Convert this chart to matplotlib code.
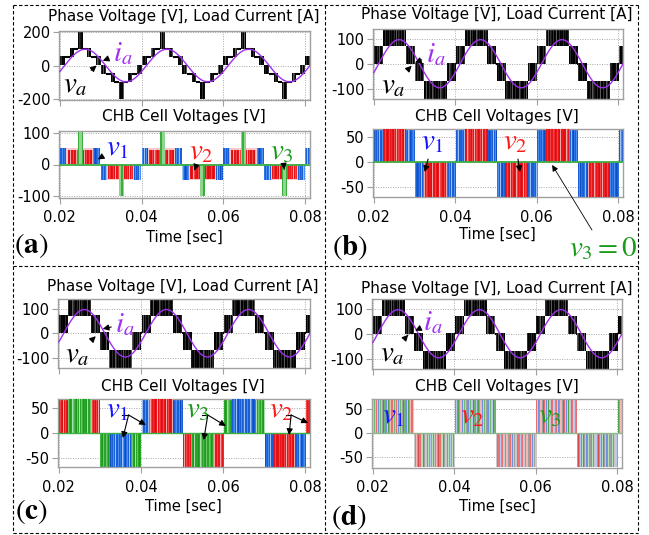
import numpy as np
import matplotlib
matplotlib.use('Agg')
import matplotlib.pyplot as plt
from matplotlib.colors import ListedColormap
from matplotlib.lines import Line2D

plt.rcParams['font.family'] = ['DejaVu Sans']
plt.rcParams['mathtext.fontset'] = 'stix'
plt.rcParams['axes.unicode_minus'] = False

# ------------------------------------------------------------------ data
time_ticks = [0.02, 0.04, 0.06, 0.08]
time_tick_labels = ['0.02', '0.04', '0.06', '0.08']
period_starts_ms = [20.0, 40.0, 60.0, 80.0]
sample_step_ms = 0.5

# load current i_a over one fundamental period (sampled every 0.5 ms from period start)
current_period = [-35.7, -21.2, -6.1, 9.1, 24.1, 38.5, 52.0, 64.1, 74.7, 83.5,
                  90.2, 94.7, 96.8, 96.6, 94.0, 89.0, 81.9, 72.8, 61.8, 49.4,
                  35.7, 21.2, 6.1, -9.1, -24.1, -38.5, -52.0, -64.1, -74.7, -83.5,
                  -90.2, -94.7, -96.8, -96.6, -94.0, -89.0, -81.9, -72.8, -61.8, -49.4]

# (a) phase voltage, positive half cycle (ms from period start); negative half is mirrored
a_seg_start = [0.0, 1.2, 2.4, 3.3, 4.4, 5.6, 6.7, 7.6, 8.8]
a_seg_end = [1.2, 2.4, 3.3, 4.4, 5.6, 6.7, 7.6, 8.8, 10.0]
a_seg_low = [0, 50, 50, 100, 100, 100, 50, 50, 0]
a_seg_high = [50, 50, 100, 100, 200, 100, 100, 50, 50]
# (a) cell voltages, positive half cycle
a_v1_span = (0.0, 9.75)
a_v1_edge = 1.6
a_v1_level = 50
a_v2_span = (1.6, 8.15)
a_v2_level = 46
a_v3_span = (4.4, 5.6)
a_v3_level = 100

# (b)-(d) phase voltage, positive half cycle
m_seg_start = [0.0, 0.15, 2.3, 7.9]
m_seg_end = [0.15, 2.3, 7.9, 10.0]
m_seg_low = [0, 0, 70, 0]
m_seg_high = [0, 70, 140, 70]
m_outer_span = (0.15, 10.0)
m_inner_span = (2.3, 7.9)
m_cell_level = 70

# (b): fixed roles ; (c): rotating roles, per half cycle starting at 0.02 s
b_outer = ['v1'] * 7
b_inner = ['v2'] * 7
c_outer = ['v2', 'v3', 'v1', 'v2', 'v3', 'v1', 'v2']
c_inner = ['v3', 'v1', 'v2', 'v3', 'v1', 'v2', 'v3']

# ------------------------------------------------------------------ styles
PAL = {
    'v1': ['#1a5fd6', '#4a8ef0', '#2f74e6', '#9cc2f5', '#0f4cc0'],
    'v2': ['#e8161b', '#f04848', '#d81010', '#f7a8a8', '#ee2a2a'],
    'v3': ['#2aa52a', '#6cc86c', '#1f961f', '#aadeaa', '#43b543'],
    'k': ['#000000', '#2e2e2e', '#0a0a0a', '#5a5a5a', '#1a1a1a'],
    'mix': ['#e87070', '#70b870', '#7090e0', '#a0a0a0', '#f4b8b8',
            '#b8e0b8', '#b8c8f0', '#c8c8c8', '#d05050', '#50a050'],
}
PATTERN = [0, 1, 0, 2, 0, 3, 1, 0, 4, 0, 2, 1, 0, 3, 0, 1, 4, 2, 0, 1, 0, 2, 3, 0]
MIX_PATTERN = [0, 5, 2, 7, 1, 4, 6, 3, 8, 1, 0, 6, 2, 5, 9, 3, 4, 7, 2, 0, 5, 1, 6, 3]
TXT = {'v1': '#1515ff', 'v2': '#ff1a1a', 'v3': '#1a9a1a'}
GREEN = '#3cb043'
PURPLE = '#a030f0'

W, H = 649, 535
fig = plt.figure(figsize=(W / 100, H / 100), dpi=100)


def fx(x):
    return x / W


def fy(y):
    return 1 - y / H


def add_ax(l, r, t, b):
    return fig.add_axes([fx(l), fy(b), (r - l) / W, (b - t) / H])


_cnt = [0]


def striped(ax, t0, t1, y0, y1, palette, z=2, pattern=PATTERN, stripe_ms=0.22):
    n = max(2, int(round((t1 - t0) / stripe_ms)))
    off = _cnt[0] * 7
    _cnt[0] += 1
    idx = np.array([pattern[(k + off) % len(pattern)] % len(palette) for k in range(n)])
    ax.imshow(idx[None, :], cmap=ListedColormap(palette), vmin=-0.5, vmax=len(palette) - 0.5,
              extent=(t0 / 1000, t1 / 1000, min(y0, y1), max(y0, y1)),
              aspect='auto', interpolation='nearest', zorder=z)


def style_axes(ax, ylim, yticks, xlabels):
    ax.set_xlim(0.0198, 0.0812)
    ax.set_ylim(*ylim)
    ax.set_xticks(time_ticks)
    ax.set_xticklabels(time_tick_labels if xlabels else [])
    ax.set_yticks(yticks)
    ax.set_yticklabels([str(v) for v in yticks])
    ax.grid(True, ls=(0, (1, 1.5)), color='#a8a8a8', lw=0.7)
    ax.set_axisbelow(True)
    for sp in ax.spines.values():
        sp.set_color('#a0a0a0')
        sp.set_linewidth(1.0)
    ax.tick_params(colors='#a0a0a0', labelcolor='black', labelsize=10.5, length=4, width=0.8)
    ax.tick_params(axis='y', pad=2)
    ax.tick_params(axis='x', pad=5)


def draw_phase(ax, s0, s1, lo, hi):
    for p in period_starts_ms:
        for sign, off in [(1, 0.0), (-1, 10.0)]:
            for a, b, l, h in zip(s0, s1, lo, hi):
                t0, t1 = p + off + a, p + off + b
                if l == h:
                    ax.hlines(sign * l, t0 / 1000, t1 / 1000, color='black', lw=1.5, zorder=3)
                else:
                    striped(ax, t0, t1, sign * l, sign * h, PAL['k'])
    tt = [(period_starts_ms[0] + k * sample_step_ms) / 1000
          for k in range(len(current_period) * 3 + 4)]
    ii = [current_period[k % len(current_period)] for k in range(len(tt))]
    ax.plot(tt, ii, color=PURPLE, lw=1.0, zorder=5)


ARROW = dict(arrowstyle='-|>', color='black', lw=0.8, mutation_scale=9, shrinkA=1, shrinkB=0)


def va_ia(ax, ia_txt, ia_head, va_txt, va_head):
    ax.annotate(r'$i_a$', xy=ia_head, xytext=ia_txt, color=PURPLE, fontsize=21,
                ha='center', va='center', arrowprops=ARROW, zorder=10)
    ax.annotate(r'$v_a$', xy=va_head, xytext=va_txt, color='black', fontsize=21,
                ha='center', va='center', arrowprops=ARROW, zorder=10)


def texts(cx, y_title, y_cell, y_time, lab, lab_xy):
    fig.text(fx(cx), fy(y_title), 'Phase Voltage [V], Load Current [A]', ha='center', va='center', fontsize=11)
    fig.text(fx(cx), fy(y_cell), 'CHB Cell Voltages [V]', ha='center', va='center', fontsize=11)
    fig.text(fx(cx), fy(y_time), 'Time [sec]', ha='center', va='center', fontsize=10.5)
    fig.text(fx(lab_xy[0]), fy(lab_xy[1]), r'$(\mathbf{%s})$' % lab, ha='center', va='center', fontsize=21)


# ------------------------------------------------------------------ (a)
axA1 = add_ax(59, 310, 31, 100)
draw_phase(axA1, a_seg_start, a_seg_end, a_seg_low, a_seg_high)
style_axes(axA1, (-205, 205), [-200, 0, 200], False)
va_ia(axA1, (0.0354, 75), (0.0305, 28), (0.0237, -112), (0.0290, 0))

axA2 = add_ax(59, 310, 131, 198)
for p in period_starts_ms:
    for sign, off in [(1, 0.0), (-1, 10.0)]:
        b = p + off
        striped(axA2, b + a_v1_span[0], b + a_v1_span[1], 0, sign * a_v1_level, ['#a8c8f0'], z=2)
        striped(axA2, b + a_v1_span[0], b + a_v1_span[0] + a_v1_edge, 0, sign * a_v1_level, PAL['v1'], z=3)
        striped(axA2, b + a_v1_span[1] - a_v1_edge, b + a_v1_span[1], 0, sign * a_v1_level, PAL['v1'], z=3)
        striped(axA2, b + a_v2_span[0], b + a_v2_span[1], 0, sign * (a_v2_level + 2), ['#f6c8c8'], z=4)
        striped(axA2, b + a_v2_span[0] + 0.3, b + a_v2_span[1] - 0.3, sign * 3, sign * a_v2_level,
                PAL['v2'], z=5)
        striped(axA2, b + a_v3_span[0], b + a_v3_span[1], 0, sign * a_v3_level,
                ['#3aae3a', '#90d490', '#90d490', '#90d490', '#3aae3a'], z=6,
                pattern=[0, 1, 2, 3, 4], stripe_ms=(a_v3_span[1] - a_v3_span[0]) / 5)
axA2.axhline(0, color=GREEN, lw=1.3, zorder=7)
style_axes(axA2, (-106, 106), [-100, 0, 100], True)
axA2.annotate(r'$v_1$', xy=(0.0293, 16), xytext=(0.0342, 56), color=TXT['v1'], fontsize=21,
              ha='center', va='center', arrowprops=ARROW, zorder=10)
axA2.annotate(r'$v_2$', xy=(0.0529, -19), xytext=(0.0546, 42), color=TXT['v2'], fontsize=21,
              ha='center', va='center', arrowprops=ARROW, zorder=10)
axA2.annotate(r'$v_3$', xy=(0.0749, -16), xytext=(0.0744, 42), color=TXT['v3'], fontsize=21,
              ha='center', va='center', arrowprops=ARROW, zorder=10)
texts(184, 17, 117, 237, 'a', (31, 246))


# ------------------------------------------------------------------ (b)-(d) helpers
def draw_cells(ax, outer, inner, mixed=False):
    for k, (o, i) in enumerate(zip(outer, inner)):
        b = period_starts_ms[0] + 10.0 * k
        sign = 1 if k % 2 == 0 else -1
        if mixed:
            striped(ax, b + m_outer_span[0], b + m_outer_span[1], 0, sign * m_cell_level,
                    PAL['mix'], z=2, pattern=MIX_PATTERN, stripe_ms=0.2)
        else:
            striped(ax, b + m_outer_span[0], b + m_outer_span[1], 0, sign * m_cell_level, PAL[o], z=2)
            striped(ax, b + m_inner_span[0], b + m_inner_span[1], 0, sign * m_cell_level, PAL[i], z=3)


# ------------------------------------------------------------------ (b)
axB1 = add_ax(373, 623, 29, 99)
draw_phase(axB1, m_seg_start, m_seg_end, m_seg_low, m_seg_high)
style_axes(axB1, (-142, 140), [-100, 0, 100], False)
va_ia(axB1, (0.0352, 40), (0.0301, 4), (0.0247, -85), (0.0293, -8))

axB2 = add_ax(373, 623, 129, 197)
draw_cells(axB2, b_outer, b_inner)
axB2.axhline(0, color=GREEN, lw=1.3, zorder=7)
style_axes(axB2, (-70, 66), [-50, 0, 50], True)
axB2.annotate(r'$v_1$', xy=(0.0325, -20), xytext=(0.0345, 42), color=TXT['v1'], fontsize=21,
              ha='center', va='center', arrowprops=ARROW, zorder=10)
axB2.annotate(r'$v_2$', xy=(0.0559, -20), xytext=(0.0547, 42), color=TXT['v2'], fontsize=21,
              ha='center', va='center', arrowprops=ARROW, zorder=10)
axB2.annotate(r'$v_3 = 0$', xy=(0.0638, -6), xytext=(fx(603), fy(248)), textcoords='figure fraction',
              color=TXT['v3'], fontsize=21, ha='center', va='center',
              arrowprops=dict(arrowstyle='-|>', color='black', lw=0.6, mutation_scale=9, shrinkA=1, shrinkB=0),
              annotation_clip=False, zorder=10)
texts(497, 14, 117, 234, 'b', (350, 248))

# ------------------------------------------------------------------ (c)
axC1 = add_ax(58, 310, 299, 368)
draw_phase(axC1, m_seg_start, m_seg_end, m_seg_low, m_seg_high)
style_axes(axC1, (-142, 140), [-100, 0, 100], False)
va_ia(axC1, (0.0362, 38), (0.0307, 18), (0.0246, -84), (0.0290, -12))

axC2 = add_ax(58, 310, 399, 467)
draw_cells(axC2, c_outer, c_inner)
axC2.axhline(0, color=GREEN, lw=1.0, zorder=7)
style_axes(axC2, (-68, 68), [-50, 0, 50], True)
for name, txt, knee, heads in [
    ('v1', (0.0343, 48), (0.0370, 36), [(0.0412, 16), (0.0356, -10)]),
    ('v3', (0.0538, 48), (0.0563, 36), [(0.0607, 14), (0.0553, -14)]),
    ('v2', (0.0741, 48), (0.0766, 36), [(0.0807, 20), (0.0761, -4)]),
]:
    axC2.text(txt[0], txt[1], r'$%s_%s$' % (name[0], name[1]), color=TXT[name], fontsize=21,
              ha='center', va='center', zorder=10)
    axC2.plot([txt[0] + 0.0012, knee[0]], [txt[1] - 12, knee[1]], color='black', lw=0.8, zorder=9)
    for hd in heads:
        axC2.annotate('', xy=hd, xytext=knee, arrowprops=dict(ARROW, shrinkA=0), zorder=10)
texts(183, 287, 387, 506, 'c', (31, 512))

# ------------------------------------------------------------------ (d)
axD1 = add_ax(372, 622, 299, 369)
draw_phase(axD1, m_seg_start, m_seg_end, m_seg_low, m_seg_high)
style_axes(axD1, (-142, 140), [-100, 0, 100], False)
va_ia(axD1, (0.0348, 47), (0.0304, 12), (0.0247, -76), (0.0287, -4))

axD2 = add_ax(372, 622, 399, 468)
draw_cells(axD2, c_outer, c_inner, mixed=True)
axD2.axhline(0, color='#8fb88f', lw=1.0, zorder=7)
style_axes(axD2, (-73, 71), [-50, 0, 50], True)
for name, t in [('v1', 0.0250), ('v2', 0.0444), ('v3', 0.0636)]:
    axD2.text(t, 37, r'$%s_%s$' % (name[0], name[1]), color=TXT[name], fontsize=21,
              ha='center', va='center', zorder=10)
texts(497, 289, 387, 506, 'd', (349, 517))

# ------------------------------------------------------------------ dashed panel borders
def dline(x0, y0, x1, y1):
    fig.add_artist(Line2D([fx(x0), fx(x1)], [fy(y0), fy(y1)], transform=fig.transFigure,
                          color='black', lw=0.8, ls=(0, (3, 2))))


dline(13, 5, 638, 5)
dline(13, 533, 638, 533)
dline(13, 5, 13, 533)
dline(638, 5, 638, 533)
dline(325, 5, 325, 533)
dline(13, 266, 638, 266)

fig.savefig('out.png', dpi=100)
